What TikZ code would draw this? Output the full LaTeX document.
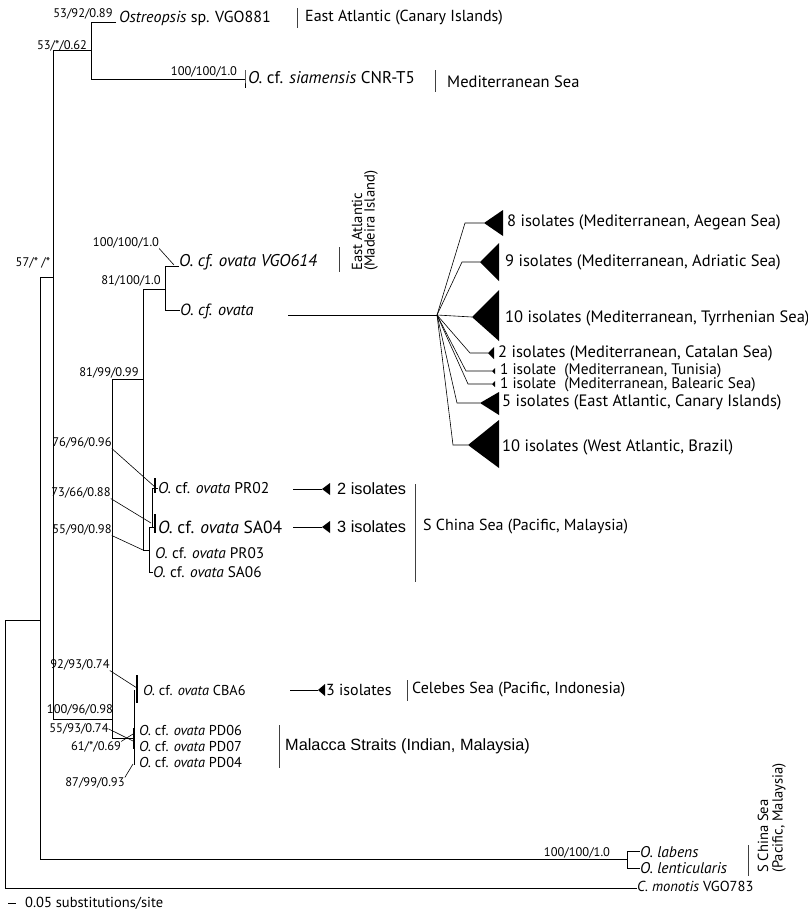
\documentclass[tikz,border=0pt]{standalone}
\usepackage{fontspec}
\setmainfont{PT Sans}
\newfontfamily\arialf{Liberation Sans}
\begin{document}
\begin{tikzpicture}[x=1pt,y=-1pt,
  br/.style={line width=0.6pt},
  barl/.style={line width=0.6pt, black!75},
  thickbar/.style={line width=1.3pt},
  tax/.style={inner sep=0pt, anchor=west, font=\fontsize{15}{17}\selectfont},
  sup/.style={inner sep=0pt, font=\fontsize{12.5}{14}\selectfont},
  iso/.style={inner sep=0pt, anchor=west, font=\fontsize{16.5}{18}\selectfont},
  loc/.style={inner sep=0pt, anchor=west, font=\fontsize{16}{18}\selectfont},
  ari/.style={inner sep=0pt, anchor=west, font=\arialf\fontsize{16.3}{18}\selectfont},
  rot/.style={inner sep=0pt, anchor=west, rotate=90, font=\fontsize{14.6}{16}\selectfont},
  fs/.style={font=\fontsize{#1}{#1}\selectfont}]
\useasboundingbox (0,0) rectangle (808,914);

% ---------- text nodes: taxa ----------
\node[tax, fs=16] (ost) at (119,18) {\textit{Ostreopsis} sp. VGO881};
\node[tax, fs=17] (siam) at (248,78) {\textit{O.} cf. \textit{siamensis} CNR-T5};
\node[tax, fs=17] (vgo) at (179,262) {\textit{O. cf. ovata VGO614}};
\node[tax, fs=16.2] (ova) at (180,311) {\textit{O. cf. ovata}};
\node[tax, fs=15.6] (pr02) at (158,488) {\textit{O.} cf. \textit{ovata} PR02};
\node[tax, fs=17.5] (sa04) at (158,527) {\textit{O.} cf. \textit{ovata} SA04};
\node[tax, fs=15.3] (pr03) at (155,553) {\textit{O.} cf. \textit{ovata} PR03};
\node[tax, fs=15.3] (sa06) at (153,572) {\textit{O.} cf. \textit{ovata} SA06};
\node[tax, fs=14.3] (cba6) at (143,690) {\textit{O.} cf. \textit{ovata} CBA6};
\node[tax, fs=14.3] (pd06) at (139,730) {\textit{O.} cf. \textit{ovata} PD06};
\node[tax, fs=14.3] (pd07) at (139,746) {\textit{O.} cf. \textit{ovata} PD07};
\node[tax, fs=14.3] (pd04) at (139,762) {\textit{O.} cf. \textit{ovata} PD04};
\node[tax, fs=15.5] (lab) at (640,852) {\textit{O. labens}};
\node[tax, fs=15.5] (len) at (640,868) {\textit{O. lenticularis}};
\node[tax, fs=14.5] (mon) at (637,886) {\textit{C. monotis} VGO783};

% ---------- support values ----------
\node[sup] (s1) at (83,14) {53/92/0.89};
\node[sup] (s2) at (62,46) {53/*/0.62};
\node[sup] (s3) at (204,72) {100/100/1.0};
\node[sup] (s4) at (33,263) {57/* /*};
\node[sup] (s5) at (126,243) {100/100/1.0};
\node[sup] (s6) at (131,281) {81/100/1.0};
\node[sup] (s7) at (109,373) {81/99/0.99};
\node[sup] (s8) at (82,443) {76/96/0.96};
\node[sup] (s9) at (81,493) {73/66/0.88};
\node[sup] (s10) at (82,530) {55/90/0.98};
\node[sup] (s11) at (80,665) {92/93/0.74};
\node[sup] (s12) at (80,710) {100/96/0.98};
\node[sup] (s13) at (79,729) {55/93/0.74};
\node[sup] (s14) at (96,747) {61/*/0.69};
\node[sup] (s15) at (95,783) {87/99/0.93};
\node[sup] (s16) at (577,853) {100/100/1.0};

% ---------- isolate groups ----------
\node[iso] (i1) at (507,222) {8 isolates (Mediterranean, Aegean Sea)};
\node[iso] (i2) at (505,262) {9 isolates (Mediterranean, Adriatic Sea)};
\node[iso] (i3) at (505,318) {10 isolates (Mediterranean, Tyrrhenian Sea)};
\node[iso] (i4) at (498,353) {2 isolates (Mediterranean, Catalan Sea)};
\node[iso, fs=15.3] (i5) at (500,371) {1 isolate\ \ (Mediterranean, Tunisia)};
\node[iso, fs=15.3] (i6) at (500,385) {1 isolate\ \ (Mediterranean, Balearic Sea)};
\node[iso] (i7) at (502,402) {5 isolates (East Atlantic, Canary Islands)};
\node[iso] (i8) at (502,447) {10 isolates (West Atlantic, Brazil)};
\node[ari] (iso2) at (337,489) {2 isolates};
\node[ari] (iso3) at (337,527) {3 isolates};
\node[loc] (iso3b) at (326,690) {3 isolates};

% ---------- locations ----------
\node[loc] (l1) at (305,18) {East Atlantic (Canary Islands)};
\node[loc, fs=16.5] (l2) at (447,82) {Mediterranean Sea};
\node[loc] (l3) at (423,527) {S China Sea (Pacific, Malaysia)};
\node[loc] (l4) at (412,690) {Celebes Sea (Pacific, Indonesia)};
\node[ari] (l5) at (285,746) {Malacca Straits (Indian, Malaysia)};
\node[rot] (r1) at (357,271) {East Atlantic};
\node[rot] (r2) at (371,271) {(Madeira Island)};
\node[rot] (r3) at (763,873) {S China Sea};
\node[rot] (r4) at (779,873) {(Pacific, Malaysia)};
\node[inner sep=0pt, anchor=west, fs=14.5] (scl) at (25,903) {0.05 substitutions/site};

% ---------- location bars ----------
\draw[barl] (297,8) -- (297,28);
\draw[barl] (435,70) -- (435,92);
\draw[barl] (339,247) -- (339,272);
\draw[barl] (415,484) -- (415,582);
\draw[barl] (407,680) -- (407,701);
\draw[barl] (279,725) -- (279,768);
\draw[barl] (748,845) -- (748,876);

% ---------- tree coordinates ----------
\coordinate (R1) at (5,620);  \coordinate (R2) at (5,888);
\coordinate (B1) at (40,277); \coordinate (B2) at (40,620); \coordinate (B3) at (40,859);
\coordinate (A1) at (53,50);  \coordinate (A2) at (53,277); \coordinate (A3) at (53,719);
\coordinate (O1) at (91,22);  \coordinate (O2) at (91,50);  \coordinate (O3) at (91,79);
\coordinate (Otip) at (116,22); \coordinate (Stip) at (245,79);
\coordinate (C1) at (112,379); \coordinate (C2) at (112,719); \coordinate (C3) at (112,738);
\coordinate (D1) at (143,289); \coordinate (D2) at (143,379); \coordinate (D3) at (143,550);
\coordinate (E1) at (165,266); \coordinate (E2) at (165,289); \coordinate (E3) at (165,310);
\coordinate (F1) at (149,527); \coordinate (F2) at (149,550); \coordinate (F3) at (149,572);
\coordinate (G1) at (152,488); \coordinate (G2) at (152,527);
\coordinate (H0) at (128,738); \coordinate (H1) at (134,690); \coordinate (H2) at (134,738); \coordinate (H3) at (134,765);
\coordinate (L1) at (627,851); \coordinate (L2) at (627,859); \coordinate (L3) at (627,868);
\coordinate (Q) at (288,315); \coordinate (P) at (437,315);

% ---------- tree ----------
\draw[br] (R1) -- (R2) -- (R2 -| mon.west);
\draw[br] (R1) -- (B2);
\draw[br] (B1) -- (B3) -- (L2);
\draw[br] (B1) -- (A2);
\draw[br] (A1) -- (A3) -- (C2);
\draw[br] (A1) -- (O2);
\draw[br] (Otip) -- (O1) -- (O3) -- (Stip);
\draw[br] (245,70) -- (Stip) -- (245,88);
\draw[br] (C1) -- (C3) -- (H0) -- (H2);
\draw[br] (C1) -- (D2);
\draw[br] (D1) -- (D3) -- (F2);
\draw[br] (D1) -- (E2);
\draw[br] (E1 -| vgo.west) -- (E1) -- (E3) -- (E3 -| ova.west);
\draw[br] (Q) -- (P);
\draw[br] (F1) -- (F3) -- (F3 -| sa06.west);
\draw[br] (F1) -- (G2) -- (G1) -- (G1 -| pr02.west);
\draw[thickbar] (155,478) -- (155,493);
\draw[thickbar] (155,514) -- (155,533);
\draw[br] (G2) -- (155,527);
\draw[br] (H1) -- (H3);
\draw[thickbar] (137,675) -- (137,703);
\draw[thickbar] (134,728) -- (134,749);
\draw[br] (L1) -- (L3);
\draw[br] (L1) -- (L1 -| lab.west);
\draw[br] (L3) -- (L3 -| len.west);

% leaders from support values
\draw[br] (s5.south east) -- (174,265);
\draw[br] (s8.south east) -- (155,487);
\draw[br] (s9.south east) -- (151,523);
\draw[br] (s10.south east) -- (143,550);
\draw[br] (s11.south east) -- (137,688);
\draw[br] (s13.east) -- (133,741);
\draw[br] (s14.north east) -- (133,734);
\draw[br] (s15.north east) -- (133,764);

% ---------- polytomy ----------
\coordinate (k1) at (484,223); \coordinate (k2) at (480,262); \coordinate (k3) at (472,317);
\coordinate (k4) at (488,353); \coordinate (k5) at (492,371); \coordinate (k6) at (492,384);
\coordinate (k7) at (480,403); \coordinate (k8) at (468,445);
\draw[br] (P) -- (465,223) -- (k1);
\draw[br] (P) -- (462,262) -- (k2);
\draw[br] (P) -- (k3);
\draw[br] (P) -- (470,353) -- (k4);
\draw[br] (P) -- (466,371) -- (k5);
\draw[br] (P) -- (468,384) -- (k6);
\draw[br] (P) -- (457,403) -- (k7);
\draw[br] (P) -- (453,445) -- (k8);
\fill (k1) -- (503,210) -- (503,236) -- cycle;
\fill (k2) -- (499,243) -- (499,281) -- cycle;
\fill (k3) -- (499,290) -- (499,341) -- cycle;
\fill (k4) -- (494,347) -- (494,359) -- cycle;
\fill (k5) -- (495,368) -- (495,374) -- cycle;
\fill (k6) -- (495,381) -- (495,387) -- cycle;
\fill (k7) -- (499,392) -- (499,415) -- cycle;
\fill (k8) -- (499,420) -- (499,468) -- cycle;

% ---------- collapsed isolates (S China / Celebes) ----------
\coordinate (m1) at (322,489); \coordinate (m2) at (322,527); \coordinate (m3) at (318,690);
\draw[br] (293,489) -- (m1);
\draw[br] (293,527) -- (m2);
\draw[br] (290,690) -- (m3);
\fill (m1) -- (330,483) -- (330,495) -- cycle;
\fill (m2) -- (330,521) -- (330,533) -- cycle;
\fill (m3) -- (325,684) -- (325,696) -- cycle;

% scale bar
\draw[br] (8,903) -- (16,903);
\end{tikzpicture}
\end{document}
